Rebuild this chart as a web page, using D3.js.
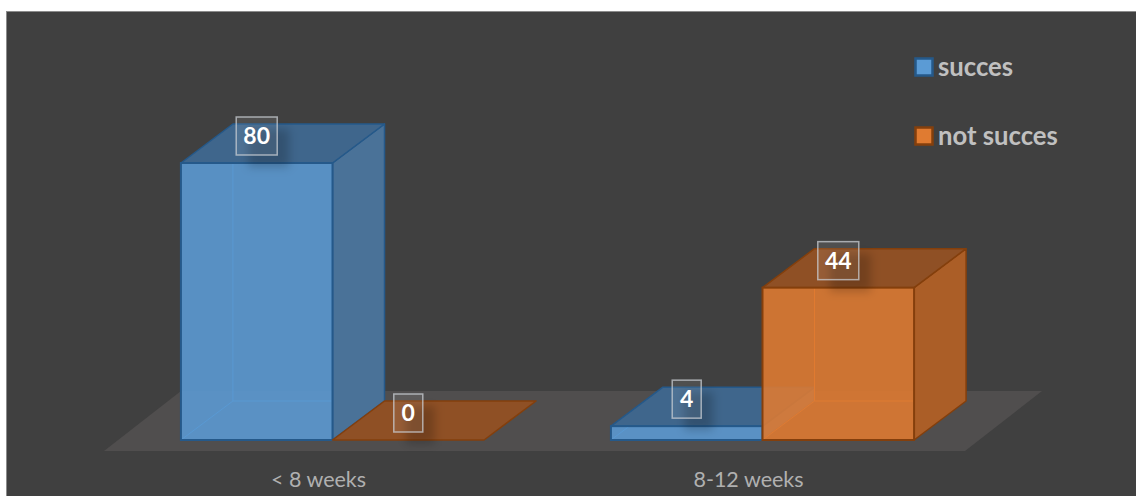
<!DOCTYPE html>
<html>
<head>
<meta charset="utf-8">
<script src="https://cdn.jsdelivr.net/npm/d3@7"></script>
<style>
  html, body { margin: 0; padding: 0; background: #fff; }
  svg { display: block; }
</style>
</head>
<body>
<div id="chart"></div>
<script>
// Values
const categories = ["< 8 weeks", "8-12 weeks"];
const seriesNames = ["succes", "not succes"];
const succes = [80, 4];
const notSucces = [0, 44];

const width = 1136, height = 496;
const depth = {x: 52, y: -39};   // oblique offset of the 3d boxes

const blue = {front: "#5b9bd5", side: "#4a7298", top: "#3f668c", line: "#25598a", back: "#4a86c0"};
const orange = {front: "#e07b31", side: "#ab5e27", top: "#8f5025", line: "#843f0c", back: "#d9752c"};
const colors = [blue, orange];

const svg = d3.select("#chart").append("svg")
    .attr("width", width)
    .attr("height", height);

const defs = svg.append("defs");
defs.append("filter").attr("id", "soft")
    .attr("x", "-60%").attr("y", "-60%").attr("width", "220%").attr("height", "220%")
  .append("feGaussianBlur").attr("stdDeviation", 5);

// Dark panel
svg.append("rect")
    .attr("x", 6.5).attr("y", 11.5)
    .attr("width", width).attr("height", height)
    .attr("fill", "#404040")
    .attr("stroke", "#8c8c8c");

// Scales
const x0 = d3.scaleBand()
    .domain(categories)
    .range([117.5, 977.5])
    .paddingInner(0.295)
    .paddingOuter(0.1475);

const x1 = d3.scaleBand()
    .domain(seriesNames)
    .range([0, x0.bandwidth()]);

const y = d3.scaleLinear().domain([0, 80]).range([440, 163]);

// Floor
const floorLeft = x0.range()[0] - 13.5, floorRight = 965, floorFront = y(0) + 11;
svg.append("path")
    .attr("d", d3.line()([
      [floorLeft, floorFront],
      [floorRight, floorFront],
      [floorRight + 77, floorFront - 60],
      [floorLeft + 77, floorFront - 60]
    ]) + "Z")
    .attr("fill", "#504e4e");

// One record for each bar
const bars = [];
categories.forEach(function(c, i) {
  bars.push({cat: c, series: seriesNames[0], value: succes[i], color: colors[0]});
  bars.push({cat: c, series: seriesNames[1], value: notSucces[i], color: colors[1]});
});

function poly(points) {
  return d3.line()(points) + "Z";
}

const bar = svg.selectAll(".bar")
    .data(bars)
    .enter().append("g")
    .attr("class", "bar")
    .each(function(d) {
      const g = d3.select(this);
      const l = x0(d.cat) + x1(d.series);
      const r = l + x1.bandwidth();
      const b = y(0), t = y(d.value);
      const dx = depth.x, dy = depth.y;

      // back edges, seen through the translucent front
      if (d.value > 0) {
        g.append("path")
            .attr("d", d3.line()([[l, b], [l + dx, b + dy], [l + dx, t + dy]]) +
                       d3.line()([[l + dx, b + dy], [r + dx, b + dy]]))
            .attr("fill", "none")
            .attr("stroke", d.color.back)
            .attr("stroke-width", 1);
      }

      // right side
      if (d.value > 0) {
        g.append("path")
            .attr("d", poly([[r, b], [r + dx, b + dy], [r + dx, t + dy], [r, t]]))
            .attr("fill", d.color.side)
            .attr("stroke", d.color.line)
            .attr("stroke-width", 1.5)
            .attr("stroke-linejoin", "round");
      }

      // top
      g.append("path")
          .attr("d", poly([[l, t], [l + dx, t + dy], [r + dx, t + dy], [r, t]]))
          .attr("fill", d.color.top)
          .attr("stroke", d.color.line)
          .attr("stroke-width", 1.5)
          .attr("stroke-linejoin", "round");

      // front
      if (d.value > 0) {
        g.append("rect")
            .attr("x", l).attr("y", t)
            .attr("width", r - l).attr("height", b - t)
            .attr("fill", d.color.front)
            .attr("fill-opacity", 0.88)
            .attr("stroke", d.color.line)
            .attr("stroke-width", 2);
      }
    });

// Data labels
const boxWidth = function(d) { return String(d.value).length > 1 ? 41 : 29; };
const boxHeight = 38;

const label = svg.selectAll(".label")
    .data(bars)
    .enter().append("g")
    .attr("class", "label")
    .attr("transform", function(d) {
      const cx = x0(d.cat) + x1(d.series) + x1.bandwidth() / 2;
      return "translate(" + cx + "," + (y(d.value) - 27) + ")";
    });

label.append("rect")
    .attr("x", function(d) { return -boxWidth(d) / 2 + 12; })
    .attr("y", -boxHeight / 2 + 12)
    .attr("width", boxWidth)
    .attr("height", boxHeight)
    .attr("fill", "#000")
    .attr("fill-opacity", 0.2)
    .attr("filter", "url(#soft)");

label.append("rect")
    .attr("x", function(d) { return -boxWidth(d) / 2; })
    .attr("y", -boxHeight / 2)
    .attr("width", boxWidth)
    .attr("height", boxHeight)
    .attr("fill", "#fff")
    .attr("fill-opacity", 0.08)
    .attr("stroke", "#c9ced3")
    .attr("stroke-opacity", 0.75)
    .attr("stroke-width", 1.5);

label.append("text")
    .attr("text-anchor", "middle")
    .attr("dy", "0.36em")
    .attr("fill", "#fff")
    .style("font-family", "Lato, 'Open Sans', sans-serif")
    .style("font-weight", 700)
    .style("font-size", "23px")
    .text(function(d) { return d.value; });

// Category axis
const axis = svg.append("g")
    .attr("transform", "translate(-14,466)")
    .call(d3.axisBottom(x0).tickSize(0).tickPadding(6));
axis.select(".domain").remove();
axis.selectAll("text")
    .attr("fill", "#b0b0b0")
    .style("font-family", "Lato, 'Open Sans', sans-serif")
    .style("font-size", "21.5px");

// Legend
const legendY = d3.scalePoint().domain(seriesNames).range([67, 136]);
const legend = svg.selectAll(".legend")
    .data(seriesNames)
    .enter().append("g")
    .attr("class", "legend")
    .attr("transform", function(d) { return "translate(915," + legendY(d) + ")"; });

legend.append("rect")
    .attr("x", 0.5).attr("y", -8.5)
    .attr("width", 17).attr("height", 17)
    .attr("fill", function(d, i) { return colors[i].front; })
    .attr("stroke", function(d, i) { return colors[i].line; })
    .attr("stroke-width", 2.5);

legend.append("text")
    .attr("x", 23)
    .attr("dy", "0.34em")
    .attr("fill", "#c0c0c0")
    .style("font-family", "Lato, 'Open Sans', sans-serif")
    .style("font-weight", 700)
    .style("font-size", "25.7px")
    .text(function(d) { return d; });
</script>
</body>
</html>
